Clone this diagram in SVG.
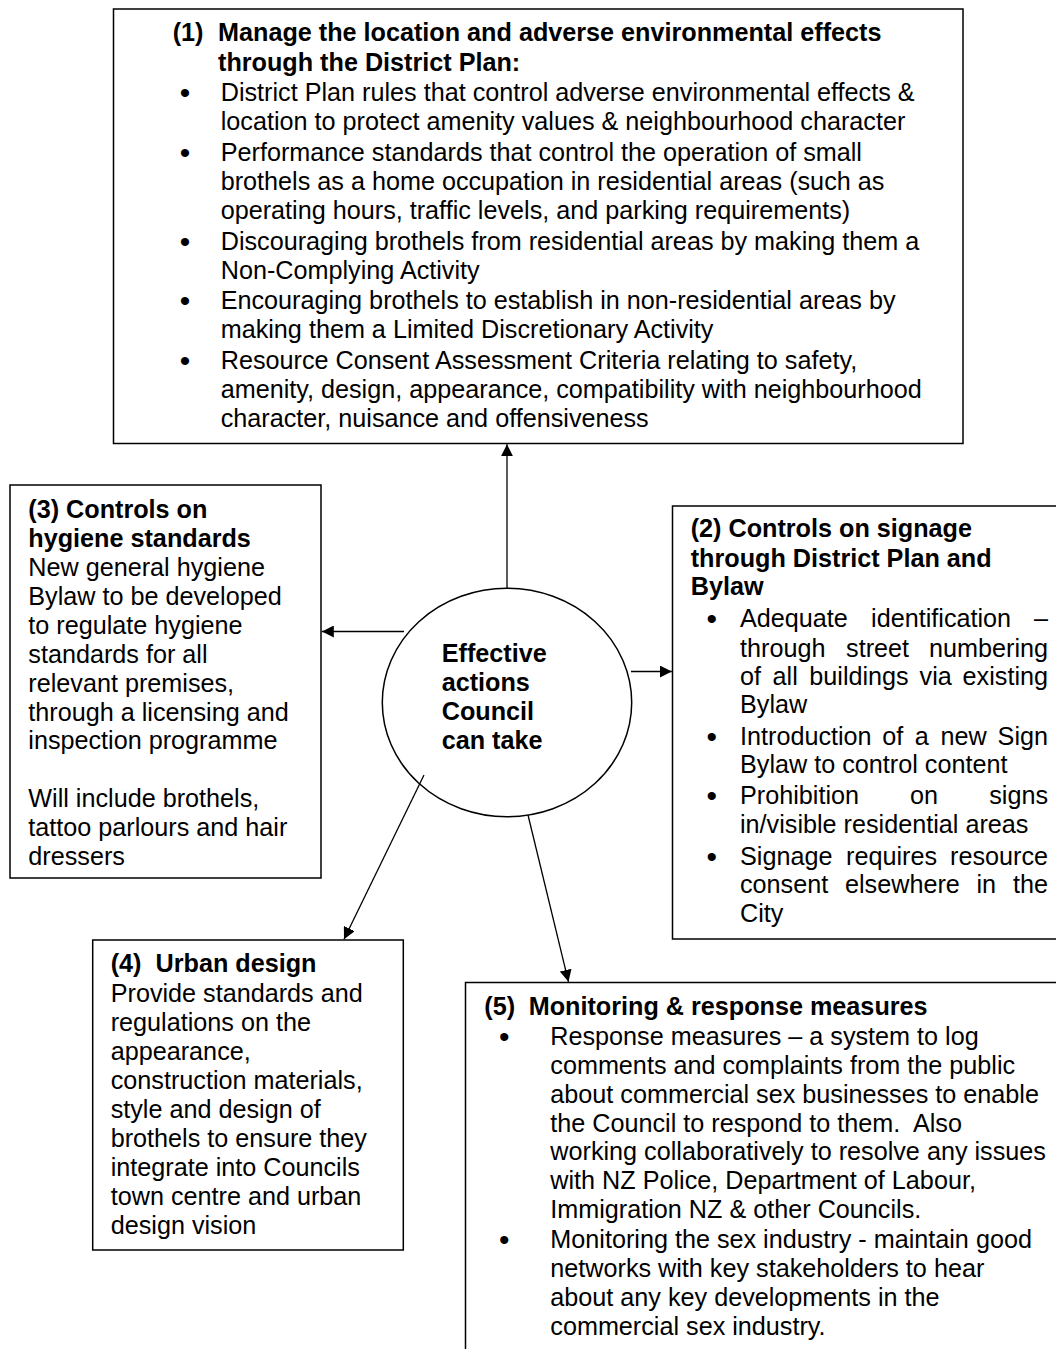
<svg xmlns="http://www.w3.org/2000/svg" width="1056" height="1349" viewBox="0 0 1056 1349">
<defs>
<style>
.box{fill:#fff;stroke:#000;stroke-width:1.5}
.t{font-family:"Liberation Sans",Arial,sans-serif;font-size:25.2px;fill:#000}
.b{font-weight:bold}
.m{text-anchor:middle}
.e{text-anchor:end}
.bu{font-family:"Liberation Sans",Arial,sans-serif;font-size:30px;fill:#000;text-anchor:middle}
.conn line{stroke:#000;stroke-width:1.3;fill:none;marker-end:url(#arr)}
</style>
<marker id="arr" markerUnits="userSpaceOnUse" markerWidth="12" markerHeight="12" viewBox="0 0 12 12" refX="12" refY="6" orient="auto">
<path d="M0,0 L12,6 L0,12 z" fill="#000"/>
</marker>
</defs>
<rect width="1056" height="1349" fill="#fff"/>

<g id="node-1">
<rect class="box" x="113.5" y="9" width="849.5" height="434.5"/>
<text class="t b" y="41"><tspan x="172.7">(1)</tspan><tspan x="218">Manage the location and adverse environmental effects</tspan></text>
<text class="t b" x="218" y="70.5">through the District Plan:</text>
<text class="bu" x="185" y="102.5">•</text>
<text class="t" x="220.7" y="100.5">District Plan rules that control adverse environmental effects &amp;</text>
<text class="t" x="220.7" y="129.5">location to protect amenity values &amp; neighbourhood character</text>
<text class="bu" x="185" y="163">•</text>
<text class="t" x="220.7" y="161">Performance standards that control the operation of small</text>
<text class="t" x="220.7" y="190">brothels as a home occupation in residential areas (such as</text>
<text class="t" x="220.7" y="219">operating hours, traffic levels, and parking requirements)</text>
<text class="bu" x="185" y="251.5">•</text>
<text class="t" x="220.7" y="249.5">Discouraging brothels from residential areas by making them a</text>
<text class="t" x="220.7" y="279">Non-Complying Activity</text>
<text class="bu" x="185" y="311">•</text>
<text class="t" x="220.7" y="309">Encouraging brothels to establish in non-residential areas by</text>
<text class="t" x="220.7" y="338">making them a Limited Discretionary Activity</text>
<text class="bu" x="185" y="370.5">•</text>
<text class="t" x="220.7" y="368.5">Resource Consent Assessment Criteria relating to safety,</text>
<text class="t" x="220.7" y="398">amenity, design, appearance, compatibility with neighbourhood</text>
<text class="t" x="220.7" y="427">character, nuisance and offensiveness</text>
</g>

<g id="node-3">
<rect class="box" x="10" y="485" width="311" height="393"/>
<text class="t b" x="28.3" y="518.3">(3) Controls on</text>
<text class="t b" x="28.3" y="546.7">hygiene standards</text>
<text class="t" x="28.3" y="576">New general hygiene</text>
<text class="t" x="28.3" y="605">Bylaw to be developed</text>
<text class="t" x="28.3" y="633.5">to regulate hygiene</text>
<text class="t" x="28.3" y="662.5">standards for all</text>
<text class="t" x="28.3" y="691.5">relevant premises,</text>
<text class="t" x="28.3" y="720.5">through a licensing and</text>
<text class="t" x="28.3" y="749.3">inspection programme</text>
<text class="t" x="28.3" y="806.7">Will include brothels,</text>
<text class="t" x="28.3" y="835.7">tattoo parlours and hair</text>
<text class="t" x="28.3" y="865">dressers</text>
</g>

<g id="node-2">
<rect class="box" x="672.5" y="506" width="420" height="433"/>
<text class="t b" x="690.7" y="536.7">(2) Controls on signage</text>
<text class="t b" x="690.7" y="566.7">through District Plan and</text>
<text class="t b" x="690.7" y="595">Bylaw</text>
<text class="bu" x="711.7" y="628.7">•</text>
<text class="t" y="626.7"><tspan x="740">Adequate</tspan><tspan x="871.1">identification</tspan><tspan x="1048" class="e">–</tspan></text>
<text class="t" y="656.7"><tspan x="740">through</tspan><tspan x="846.1">street</tspan><tspan x="1048" class="e">numbering</tspan></text>
<text class="t" y="685"><tspan x="740">of</tspan><tspan x="772.6">all</tspan><tspan x="809.3">buildings</tspan><tspan x="919.6">via</tspan><tspan x="1048" class="e">existing</tspan></text>
<text class="t" x="740" y="713.3">Bylaw</text>
<text class="bu" x="711.7" y="747">•</text>
<text class="t" y="745"><tspan x="740">Introduction</tspan><tspan x="882.3">of</tspan><tspan x="914.8">a</tspan><tspan x="940.4">new</tspan><tspan x="1048" class="e">Sign</tspan></text>
<text class="t" x="740" y="773.3">Bylaw to control content</text>
<text class="bu" x="711.7" y="806.3">•</text>
<text class="t" y="804.3"><tspan x="740">Prohibition</tspan><tspan x="910">on</tspan><tspan x="1048" class="e">signs</tspan></text>
<text class="t" x="740" y="833.3">in/visible residential areas</text>
<text class="bu" x="711.7" y="867">•</text>
<text class="t" y="865"><tspan x="740">Signage</tspan><tspan x="846.1">requires</tspan><tspan x="1048" class="e">resource</tspan></text>
<text class="t" y="893.3"><tspan x="740">consent</tspan><tspan x="845">elsewhere</tspan><tspan x="976.4">in</tspan><tspan x="1048" class="e">the</tspan></text>
<text class="t" x="740" y="921.7">City</text>
</g>

<g id="node-center">
<ellipse class="box" cx="507" cy="702.5" rx="124.7" ry="114.2"/>
<text class="t b" x="441.7" y="661.7">Effective</text>
<text class="t b" x="441.7" y="690.5">actions</text>
<text class="t b" x="441.7" y="719.5">Council</text>
<text class="t b" x="441.7" y="749">can take</text>
</g>

<g id="node-4">
<rect class="box" x="92.7" y="940" width="310.6" height="310"/>
<text class="t b" y="971.7"><tspan x="110.7">(4)</tspan><tspan x="155.5">Urban design</tspan></text>
<text class="t" x="110.7" y="1001.7">Provide standards and</text>
<text class="t" x="110.7" y="1031">regulations on the</text>
<text class="t" x="110.7" y="1060">appearance,</text>
<text class="t" x="110.7" y="1089">construction materials,</text>
<text class="t" x="110.7" y="1118.3">style and design of</text>
<text class="t" x="110.7" y="1146.8">brothels to ensure they</text>
<text class="t" x="110.7" y="1175.7">integrate into Councils</text>
<text class="t" x="110.7" y="1205">town centre and urban</text>
<text class="t" x="110.7" y="1234">design vision</text>
</g>

<g id="node-5">
<rect class="box" x="465.5" y="982.5" width="620" height="420"/>
<text class="t b" y="1015"><tspan x="484.3">(5)</tspan><tspan x="528.7">Monitoring &amp; response measures</tspan></text>
<text class="bu" x="504.3" y="1047">•</text>
<text class="t" x="550.3" y="1045">Response measures – a system to log</text>
<text class="t" x="550.3" y="1074">comments and complaints from the public</text>
<text class="t" x="550.3" y="1102.7">about commercial sex businesses to enable</text>
<text class="t" x="550.3" y="1131.7" xml:space="preserve">the Council to respond to them.  Also</text>
<text class="t" x="550.3" y="1160.3">working collaboratively to resolve any issues</text>
<text class="t" x="550.3" y="1189.3">with NZ Police, Department of Labour,</text>
<text class="t" x="550.3" y="1218.3">Immigration NZ &amp; other Councils.</text>
<text class="bu" x="504.3" y="1250.3">•</text>
<text class="t" x="550.3" y="1248.3">Monitoring the sex industry - maintain good</text>
<text class="t" x="550.3" y="1276.7">networks with key stakeholders to hear</text>
<text class="t" x="550.3" y="1305.7">about any key developments in the</text>
<text class="t" x="550.3" y="1335">commercial sex industry.</text>
</g>

<g id="connectors" class="conn">
<line x1="507" y1="588" x2="507" y2="444.3"/>
<line x1="404" y1="631.5" x2="321.8" y2="631.5"/>
<line x1="631" y1="671.5" x2="671.8" y2="671.5"/>
<line x1="424" y1="775" x2="344" y2="939.3"/>
<line x1="528" y1="815" x2="568.5" y2="981.8"/>
</g>
</svg>
